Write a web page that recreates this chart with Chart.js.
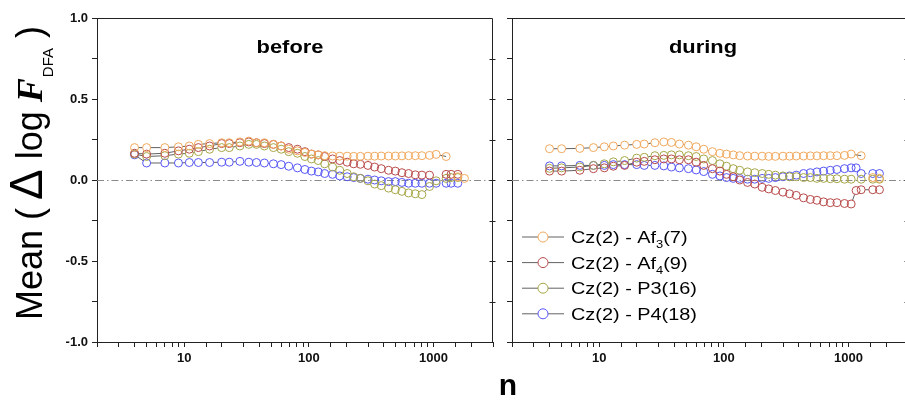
<!DOCTYPE html>
<html>
<head>
<meta charset="utf-8">
<script src="https://cdn.jsdelivr.net/npm/chart.js@4.4.0/dist/chart.umd.min.js"></script>
<style>
  html, body { margin: 0; padding: 0; background: #fff; overflow: hidden; width: 905px; height: 400px; }
  canvas { position: absolute; left: 0; top: 0; }
</style>
</head>
<body>
<canvas id="beforeChart" width="905" height="400"></canvas>
<canvas id="duringChart" width="920" height="400"></canvas>
<script>
// window sizes n (same for both panels)
const nValues = [4, 5, 7, 9, 11, 13, 16, 20, 23, 28,
  33, 38, 44, 52, 60, 69, 81, 93, 105, 119,
  134, 155, 177, 203, 229, 259, 298, 337, 381, 436,
  494, 558, 631, 714, 807, 929, 1050, 1150, 1263, 1384,
  1566, 1770];

// "before" panel
const beforeAf3 = [0.20, 0.20, 0.20, 0.205, 0.21, 0.22, 0.225, 0.23, 0.23, 0.235,
  0.24, 0.23, 0.23, 0.22, 0.21, 0.19, 0.18, 0.17, 0.16, 0.155,
  0.15, 0.148, 0.147, 0.147, 0.146, 0.146, 0.147, 0.147, 0.148, 0.148,
  0.148, 0.149, 0.15, 0.15, 0.15, 0.152, 0.158, null, 0.145, null,
  0.02, 0.01];
const beforeAf4 = [0.165, 0.16, 0.165, 0.18, 0.19, 0.20, 0.21, 0.225, 0.225, 0.23,
  0.235, 0.23, 0.225, 0.22, 0.21, 0.20, 0.19, 0.175, 0.16, 0.155,
  0.145, 0.13, 0.12, 0.11, 0.10, 0.097, 0.09, 0.08, 0.07, 0.06,
  0.055, 0.045, 0.04, 0.032, 0.03, 0.03, null, null, 0.035, 0.035,
  0.035, null];
const beforeP3 = [0.16, 0.145, 0.15, 0.16, 0.165, 0.175, 0.19, 0.20, 0.20, 0.21,
  0.22, 0.22, 0.21, 0.20, 0.19, 0.175, 0.165, 0.145, 0.13, 0.12,
  0.10, 0.08, 0.06, 0.04, 0.02, 0.01, -0.005, -0.025, -0.035, -0.05,
  -0.06, -0.07, -0.08, -0.085, -0.09, -0.04, -0.005, null, 0.01, 0.015,
  0.015, null];
const beforeP4 = [0.155, 0.105, 0.105, 0.105, 0.108, 0.108, 0.108, 0.11, 0.11, 0.115,
  0.11, 0.108, 0.105, 0.10, 0.095, 0.085, 0.075, 0.065, 0.055, 0.05,
  0.04, 0.035, 0.025, 0.02, 0.015, 0.01, 0.005, 0, -0.005, -0.01,
  -0.01, -0.015, -0.02, -0.02, -0.02, -0.02, -0.02, null, -0.02, -0.02,
  -0.02, null];

// "during" panel
const duringAf3 = [0.193, 0.193, 0.195, 0.20, 0.205, 0.21, 0.215, 0.22, 0.222, 0.23,
  0.235, 0.232, 0.222, 0.215, 0.205, 0.19, 0.175, 0.165, 0.16, 0.155,
  0.15, 0.148, 0.147, 0.147, 0.146, 0.146, 0.147, 0.147, 0.148, 0.148,
  0.149, 0.149, 0.15, 0.15, 0.15, 0.152, 0.16, null, 0.15, null,
  0.015, 0.01];
const duringAf4 = [0.055, 0.055, 0.06, 0.07, 0.075, 0.085, 0.09, 0.11, 0.115, 0.125,
  0.13, 0.13, 0.125, 0.125, 0.11, 0.09, 0.07, 0.055, 0.035, 0.02,
  0, -0.015, -0.025, -0.045, -0.055, -0.065, -0.075, -0.085, -0.095, -0.11,
  -0.12, -0.125, -0.135, -0.14, -0.14, -0.145, -0.148, -0.065, -0.06, null,
  -0.06, -0.06];
const duringP3 = [0.072, 0.075, 0.08, 0.09, 0.10, 0.112, 0.12, 0.135, 0.14, 0.15,
  0.152, 0.155, 0.155, 0.15, 0.145, 0.13, 0.12, 0.10, 0.085, 0.07,
  0.06, 0.05, 0.045, 0.04, 0.035, 0.03, 0.025, 0.02, 0.02, 0.015,
  0.015, 0.01, 0.01, 0.008, 0.008, 0.005, 0.005, null, 0.005, null,
  0.005, 0.005];
const duringP4 = [0.087, 0.087, 0.09, 0.09, 0.09, 0.095, 0.095, 0.095, 0.09, 0.09,
  0.087, 0.08, 0.075, 0.07, 0.062, 0.052, 0.035, 0.025, 0.015, 0.01,
  0.01, 0.005, 0.005, 0.01, 0.01, 0.015, 0.02, 0.025, 0.03, 0.04,
  0.045, 0.05, 0.055, 0.06, 0.065, 0.07, 0.075, 0.075, 0.04, null,
  0.04, 0.04];

const seriesNames = ["Cz(2) - Af_3(7)", "Cz(2) - Af_4(9)", "Cz(2) - P3(16)", "Cz(2) - P4(18)"];
const yTickLabels = [-1, -0.5, 0, 0.5, 1];
const xTickLabels = [10, 100, 1000];

const seriesColors = ["rgb(240,168,92)", "rgb(184,74,74)", "rgb(166,166,72)", "rgb(86,86,245)"];
const lineColor = "rgba(70,70,70,0.85)";
const SANS = '"Liberation Sans", Arial, sans-serif';
const R = 4; // marker radius

// Origin-style line: leave a gap around every marker
function segLen(c) {
  return Math.hypot(c.p1.x - c.p0.x, c.p1.y - c.p0.y);
}
const gapLine = {
  borderDash: (c) => {
    const L = segLen(c);
    return L > 2 * R + 1 ? [L - 2 * R, 2 * R] : [0, L + 10];
  },
  borderDashOffset: -R,
};

function makeDatasets(series) {
  return series.map((vals, i) => ({
    label: seriesNames[i],
    data: nValues.map((n, j) => ({ x: n, y: vals[j] })),
    borderColor: lineColor,
    borderWidth: 1,
    tension: 0,
    spanGaps: true,
    segment: gapLine,
    pointRadius: R,
    pointBorderWidth: 1,
    pointBorderColor: seriesColors[i],
    pointBackgroundColor: "rgba(0,0,0,0)",
  }));
}

function drawYTitle(ctx) {
  ctx.save();
  ctx.translate(42, 320);
  ctx.rotate(-Math.PI / 2);
  ctx.fillStyle = "#000";
  ctx.textAlign = "left";
  ctx.textBaseline = "alphabetic";
  let x = 0;
  const put = (text, font, dy, gap) => {
    x += gap;
    ctx.font = font;
    ctx.fillText(text, x, dy);
    x += ctx.measureText(text).width;
  };
  put("Mean (", `36px ${SANS}`, 0, 0);
  put("Δ", `46px ${SANS}`, 0, 8);
  put("log", `36px ${SANS}`, 0, 10);
  put("F", `italic bold 36px "Liberation Serif", "Times New Roman", serif`, 0, 9);
  put("DFA", `15px ${SANS}`, 11, 1);
  put(")", `36px ${SANS}`, 0, 10);
  ctx.restore();
}

function drawLegend(ctx) {
  seriesNames.forEach((name, i) => {
    const y = 237 + i * 25.6;
    ctx.save();
    ctx.lineWidth = 1;
    ctx.strokeStyle = lineColor;
    ctx.beginPath();
    ctx.moveTo(522, y); ctx.lineTo(538, y);
    ctx.moveTo(548, y); ctx.lineTo(564, y);
    ctx.stroke();
    ctx.strokeStyle = seriesColors[i];
    ctx.beginPath();
    ctx.arc(543, y, 5, 0, 2 * Math.PI);
    ctx.stroke();
    ctx.translate(571, y + 6);
    ctx.scale(1.17, 1);
    ctx.fillStyle = "#000";
    let x = 0;
    name.split(/_(\d)/).forEach((part, k) => {
      const sub = k % 2 === 1;
      ctx.font = sub ? `11px ${SANS}` : `17px ${SANS}`;
      ctx.fillText(part, x, sub ? 5 : 0);
      x += ctx.measureText(part).width;
    });
    ctx.restore();
  });
}

function decor(title, titleX, isLeft) {
  return {
    id: "decor_" + title,
    beforeDatasetsDraw(chart) {
      const { ctx, chartArea } = chart;
      const y0 = Math.round(chart.scales.y.getPixelForValue(0)) + 0.5;
      ctx.save();
      ctx.strokeStyle = "#8a8a8a";
      ctx.lineWidth = 1;
      ctx.setLineDash([7, 3, 1.5, 3]);
      ctx.beginPath();
      ctx.moveTo(chartArea.left, y0);
      ctx.lineTo(chartArea.right, y0);
      ctx.stroke();
      ctx.restore();
    },
    afterDraw(chart) {
      const { ctx, chartArea } = chart;
      const yScale = chart.scales.y;
      ctx.save();
      // top and right frame
      ctx.strokeStyle = "#222";
      ctx.lineWidth = 1;
      const t = Math.round(chartArea.top) + 0.5;
      const r = Math.round(chartArea.right) - 0.5;
      ctx.beginPath();
      ctx.moveTo(chartArea.left, t);
      ctx.lineTo(r, t);
      ctx.lineTo(r, chartArea.bottom);
      ctx.stroke();
      for (let v = -0.75; v <= 0.76; v += 0.25) {
        const py = Math.round(yScale.getPixelForValue(v)) + 0.5;
        ctx.beginPath();
        ctx.moveTo(r - 3, py);
        ctx.lineTo(r + 3, py);
        ctx.stroke();
      }
      // panel title
      ctx.fillStyle = "#000";
      ctx.translate(titleX, 53);
      ctx.scale(1.15, 1);
      ctx.font = `bold 19px ${SANS}`;
      ctx.textAlign = "center";
      ctx.fillText(title, 0, 0);
      ctx.restore();

      if (isLeft) {
        drawYTitle(ctx);
      } else {
        drawLegend(ctx);
        ctx.save();
        ctx.fillStyle = "#000";
        ctx.font = `bold 30px ${SANS}`;
        ctx.textAlign = "center";
        ctx.fillText("n", 508, 395);
        ctx.restore();
      }
    },
  };
}

function panelOptions(padRight, yWidth, showY) {
  return {
    responsive: false,
    animation: false,
    events: [],
    layout: { padding: { top: 18, right: padRight, left: 0, bottom: 0 } },
    plugins: { legend: { display: false }, tooltip: { enabled: false } },
    scales: {
      x: {
        type: "logarithmic",
        min: 2,
        max: 3000,
        afterFit: (s) => { s.height = 58; },
        border: { display: true, color: "#222", width: 1 },
        grid: { drawOnChartArea: false, tickLength: 5, color: "#222" },
        ticks: {
          autoSkip: false,
          maxRotation: 0,
          padding: 4,
          color: "#111",
          font: { family: SANS, size: 13, weight: "bold" },
          callback: (v) => (xTickLabels.some((t) => Math.abs(t - v) < 1e-6) ? String(Math.round(v)) : ""),
        },
      },
      y: {
        min: -1,
        max: 1,
        afterFit: (s) => { s.width = yWidth; },
        border: { display: true, color: "#222", width: 1 },
        grid: { drawOnChartArea: false, tickLength: 5, color: "#222" },
        ticks: {
          stepSize: 0.25,
          autoSkip: false,
          padding: 4,
          color: "#111",
          font: { family: SANS, size: 13, weight: "bold" },
          callback: (v) => (showY && yTickLabels.some((t) => Math.abs(t - v) < 1e-9) ? v.toFixed(1) : ""),
        },
      },
    },
  };
}

new Chart(document.getElementById("beforeChart"), {
  type: "line",
  data: { datasets: makeDatasets([beforeAf3, beforeAf4, beforeP3, beforeP4]) },
  options: panelOptions(905 - 493, 97, true),
  plugins: [decor("before", 290, true)],
});

new Chart(document.getElementById("duringChart"), {
  type: "line",
  data: { datasets: makeDatasets([duringAf3, duringAf4, duringP3, duringP4]) },
  options: panelOptions(920 - 908, 512, false),
  plugins: [decor("during", 703, false)],
});
</script>
</body>
</html>
